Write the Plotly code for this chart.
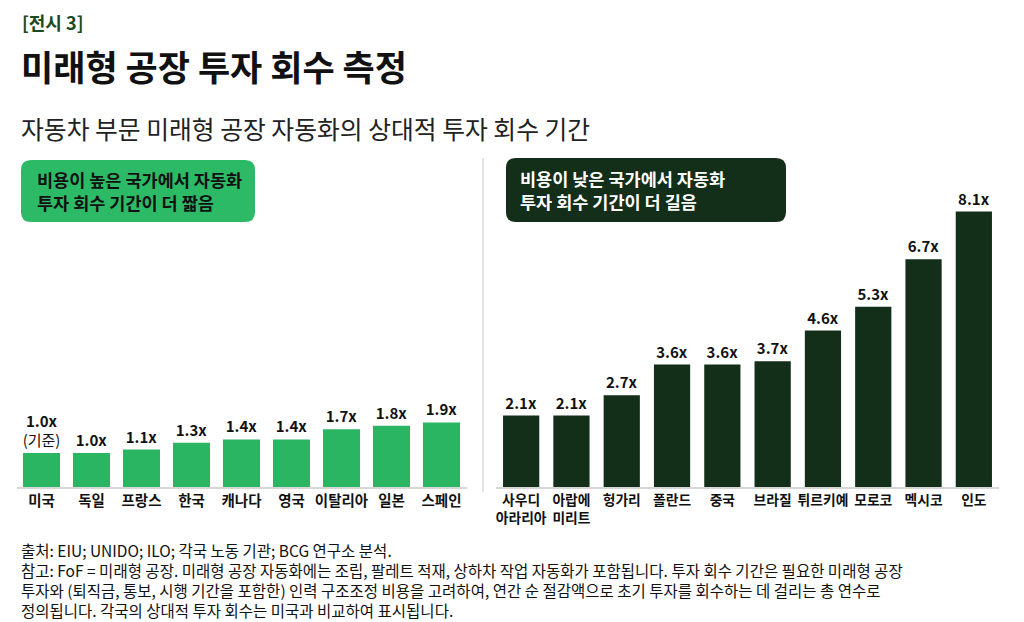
import plotly.graph_objects as go

# Data
high_cost_countries = ["미국", "독일", "프랑스", "한국", "캐나다", "영국", "이탈리아", "일본", "스페인"]
high_cost_values = [1.0, 1.0, 1.1, 1.3, 1.4, 1.4, 1.7, 1.8, 1.9]

low_cost_countries = ["사우디 아라리아", "아랍에 미리트", "헝가리", "폴란드", "중국",
                      "브라질", "튀르키예", "모로코", "멕시코", "인도"]
low_cost_values = [2.1, 2.1, 2.7, 3.6, 3.6, 3.7, 4.6, 5.3, 6.7, 8.1]

W, H = 1024, 622
OFF = 8  # page body margin
FONT = "Noto Sans CJK KR"
LIGHT = "#2AB562"
DARK = "#132E19"


def px(x):
    return (x - OFF) / W


def py(y):
    return 1 - (y - OFF) / H


def rounded(x0, y0, x1, y1, r):
    # rounded rectangle path in paper coords from pixel coords
    pts = [
        f"M {px(x0 + r)} {py(y0)}",
        f"L {px(x1 - r)} {py(y0)}",
        f"Q {px(x1)} {py(y0)} {px(x1)} {py(y0 + r)}",
        f"L {px(x1)} {py(y1 - r)}",
        f"Q {px(x1)} {py(y1)} {px(x1 - r)} {py(y1)}",
        f"L {px(x0 + r)} {py(y1)}",
        f"Q {px(x0)} {py(y1)} {px(x0)} {py(y1 - r)}",
        f"L {px(x0)} {py(y0 + r)}",
        f"Q {px(x0)} {py(y0)} {px(x0 + r)} {py(y0)}",
        "Z",
    ]
    return " ".join(pts)


high_text = [f"<b>{v:.1f}x</b>" for v in high_cost_values]
high_text[0] = high_text[0] + "<br>(기준)"
low_text = [f"<b>{v:.1f}x</b>" for v in low_cost_values]

fig = go.Figure()

fig.add_trace(go.Bar(
    x=high_cost_countries, y=high_cost_values,
    marker_color=LIGHT, marker_line_width=0, width=0.74,
    text=high_text, textposition="outside", constraintext="none",
    textfont=dict(family=FONT, size=15, color="#111111"),
    cliponaxis=False, xaxis="x", yaxis="y", hoverinfo="skip",
))
fig.add_trace(go.Bar(
    x=low_cost_countries, y=low_cost_values,
    marker_color=DARK, marker_line_width=0, width=0.72,
    text=low_text, textposition="outside", constraintext="none",
    textfont=dict(family=FONT, size=15, color="#111111"),
    cliponaxis=False, xaxis="x2", yaxis="y2", hoverinfo="skip",
))

y_bottom, y_top, unit = 487, 150, 34
y_range = [0, (y_bottom - y_top) / unit]
y_dom = [py(y_bottom), py(y_top)]

axis_common = dict(showgrid=False, zeroline=False, showline=True, linecolor="#d6d6d6",
                   linewidth=1.5, ticks="", type="category", fixedrange=True)

fig.update_layout(
    width=W, height=H,
    margin=dict(l=0, r=0, t=0, b=0),
    paper_bgcolor="white", plot_bgcolor="white",
    showlegend=False,
    font=dict(family=FONT, color="#111111"),
    xaxis=dict(domain=[px(16.5), px(466.5)], anchor="y",
               tickvals=high_cost_countries,
               ticktext=[f"<b>{c}</b>" for c in high_cost_countries],
               tickfont=dict(family=FONT, size=14.5, color="#111111"),
               range=[-0.5, len(high_cost_countries) - 0.5], **axis_common),
    xaxis2=dict(domain=[px(496), px(999)], anchor="y2",
                tickvals=low_cost_countries,
                ticktext=[f"<b>{c.replace(' ', '<br>')}</b>" for c in low_cost_countries],
                tickfont=dict(family=FONT, size=13.8, color="#111111"),
                range=[-0.5, len(low_cost_countries) - 0.5], **axis_common),
    yaxis=dict(domain=y_dom, range=y_range, visible=False, fixedrange=True),
    yaxis2=dict(domain=y_dom, range=y_range, visible=False, anchor="x2", fixedrange=True),
)

# Boxes and divider
fig.add_shape(type="path", xref="paper", yref="paper", path=rounded(21, 160, 255, 222, 10),
              fillcolor="#2DBA66", line_width=0, layer="below")
fig.add_shape(type="path", xref="paper", yref="paper", path=rounded(506, 158, 786, 222, 10),
              fillcolor=DARK, line_width=0, layer="below")
fig.add_shape(type="line", xref="paper", yref="paper", x0=px(483), x1=px(483),
              y0=py(158), y1=py(492), line=dict(color="#d9d9d9", width=1.5))

texts = [
    (20, 22, "<b>[전시 3]</b>", 18, "#1B4A25"),
    (19, 66, "<b>미래형 공장 투자 회수 측정</b>", 35, "#111111"),
    (19, 128, "자동차 부문 미래형 공장 자동화의 상대적 투자 회수 기간", 24.8, "#222222"),
]
for x, y, t, s, c in texts:
    fig.add_annotation(xref="paper", yref="paper", x=px(x), y=py(y), text=t, showarrow=False,
                       xanchor="left", yanchor="middle", font=dict(family=FONT, size=s, color=c))

fig.add_annotation(xref="paper", yref="paper", x=px(35), y=py(191),
                   text="<b>비용이 높은 국가에서 자동화<br>투자 회수 기간이 더 짧음</b>",
                   showarrow=False, xanchor="left", yanchor="middle", align="left",
                   font=dict(family=FONT, size=17.5, color="#111111"))
fig.add_annotation(xref="paper", yref="paper", x=px(518), y=py(190),
                   text="<b>비용이 낮은 국가에서 자동화<br>투자 회수 기간이 더 길음</b>",
                   showarrow=False, xanchor="left", yanchor="middle", align="left",
                   font=dict(family=FONT, size=17.5, color="white"))

footer_lines = [
    "출처: EIU; UNIDO; ILO; 각국 노동 기관; BCG 연구소 분석.",
    "참고: FoF = 미래형 공장. 미래형 공장 자동화에는 조립, 팔레트 적재, 상하차 작업 자동화가 포함됩니다. 투자 회수 기간은 필요한 미래형 공장",
    "투자와 (퇴직금, 통보, 시행 기간을 포함한) 인력 구조조정 비용을 고려하여, 연간 순 절감액으로 초기 투자를 회수하는 데 걸리는 총 연수로",
    "정의됩니다. 각국의 상대적 투자 회수는 미국과 비교하여 표시됩니다.",
]
fig.add_annotation(xref="paper", yref="paper", x=px(19), y=py(537), text="<br>".join(footer_lines),
                   showarrow=False, xanchor="left", yanchor="top", align="left",
                   font=dict(family=FONT, size=15.5, color="#111111"))

fig.write_html("out.html")
